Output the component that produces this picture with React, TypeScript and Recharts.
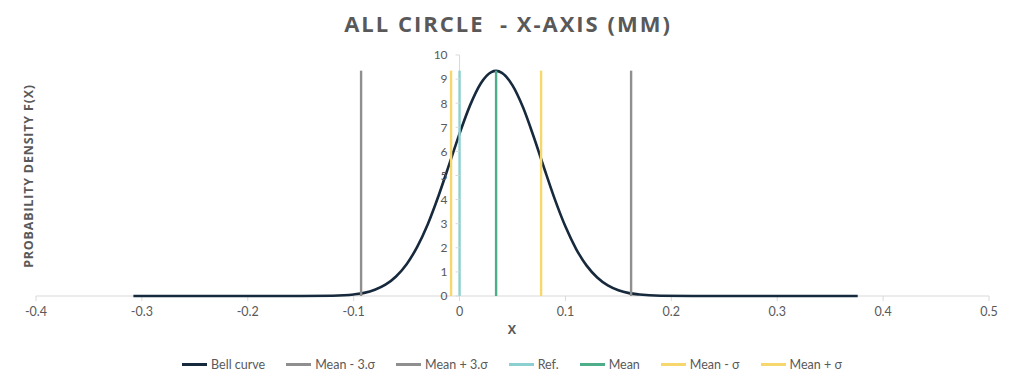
import { LineChart, Line, XAxis, YAxis, ReferenceLine } from 'recharts';

// bell curve
const bellX = [
  -0.308, -0.25, -0.2, -0.15, -0.12, -0.1, -0.09, -0.08, -0.07, -0.06, -0.05, -0.04, -0.03, -0.02,
  -0.01, 0, 0.01, 0.02, 0.03, 0.0345, 0.04, 0.05, 0.06, 0.07, 0.08, 0.09, 0.1, 0.11, 0.12, 0.13,
  0.14, 0.15, 0.16, 0.17, 0.19, 0.22, 0.3, 0.376,
];
const bellY = [
  0, 0, 0, 0.001, 0.013, 0.065, 0.13, 0.26, 0.47, 0.81, 1.32, 2.04, 2.98, 4.14,
  5.43, 6.74, 7.92, 8.82, 9.29, 9.34, 9.26, 8.74, 7.82, 6.61, 5.29, 4.01, 2.88, 1.96, 1.26, 0.77,
  0.44, 0.24, 0.12, 0.061, 0.012, 0.001, 0, 0,
];

// vertical marker lines
const markerNames = ['Mean - 3.σ', 'Mean + 3.σ', 'Ref.', 'Mean', 'Mean - σ', 'Mean + σ'];
const markerX = [-0.093, 0.162, 0, 0.0345, -0.008, 0.077];
const markerTop = 9.35;

const xTicks = [-0.4, -0.3, -0.2, -0.1, 0, 0.1, 0.2, 0.3, 0.4, 0.5];
const yTicks = [0, 1, 2, 3, 4, 5, 6, 7, 8, 9, 10];

const BELL_COLOR = '#17293d';
const markerColors = ['#8f8f8f', '#8f8f8f', '#8ccfd0', '#4fae8a', '#f5d76e', '#f5d76e'];

const W = 1024;
const H = 390;
const Y_AXIS_W = 1;
const M = { top: 55, right: 35, bottom: 64, left: 36 - Y_AXIS_W };
const X_MIN = -0.4;
const X_MAX = 0.5;
const PLOT_LEFT = M.left + Y_AXIS_W;
const PLOT_W = W - PLOT_LEFT - M.right;
// pixel where x = 0 sits; the y axis is drawn there
const Y_AXIS_PX = PLOT_LEFT + ((0 - X_MIN) / (X_MAX - X_MIN)) * PLOT_W;

const TEXT = '#595959';
const GRID = '#d9d9d9';
const FONT = 'Lato, "Open Sans", sans-serif';

const bellData = bellX.map((x, i) => ({ x, y: bellY[i] }));
const markers = markerNames.map((name, i) => ({
  name,
  color: markerColors[i],
  data: [
    { x: markerX[i], y: 0 },
    { x: markerX[i], y: markerTop },
  ],
}));

const legendItems = [{ name: 'Bell curve', color: BELL_COLOR }, ...markers.map((m) => ({ name: m.name, color: m.color }))];

const YTick = ({ y, payload }: any) => (
  <g>
    <line x1={Y_AXIS_PX - 4} x2={Y_AXIS_PX} y1={y} y2={y} stroke={GRID} />
    <text x={Y_AXIS_PX - 12} y={y} dy={4.3} textAnchor="end" fill={TEXT} fontSize={12} fontFamily={FONT}>
      {payload.value}
    </text>
  </g>
);

export default function App() {
  return (
    <div style={{ position: 'absolute', left: 0, top: 0, width: W, height: H, background: '#fff', fontFamily: FONT }}>
      <div
        style={{
          position: 'absolute',
          top: 8,
          left: 0,
          width: W - 8,
          textAlign: 'center',
          fontFamily: '"Open Sans", sans-serif',
          fontWeight: 700,
          fontSize: 22,
          letterSpacing: 2,
          color: TEXT,
        }}
      >
        ALL CIRCLE &nbsp;- X-AXIS (MM)
      </div>

      <div
        style={{
          position: 'absolute',
          left: 28,
          top: 176,
          transform: 'translate(-50%, -50%) rotate(-90deg)',
          whiteSpace: 'nowrap',
          fontFamily: '"Open Sans", sans-serif',
          fontWeight: 700,
          fontSize: 12.5,
          letterSpacing: 0.8,
          color: TEXT,
        }}
      >
        PROBABILITY DENSITY F(X)
      </div>

      <div
        style={{
          position: 'absolute',
          left: 0,
          top: 321,
          width: W,
          textAlign: 'center',
          fontFamily: '"Open Sans", sans-serif',
          fontWeight: 700,
          fontSize: 12.5,
          color: TEXT,
        }}
      >
        X
      </div>

      <LineChart width={W} height={H} margin={M} style={{ position: 'absolute', left: 0, top: 0 }}>
        <XAxis
          dataKey="x"
          type="number"
          domain={[X_MIN, X_MAX]}
          ticks={xTicks}
          allowDataOverflow
          height={30}
          axisLine={{ stroke: GRID }}
          tickLine={{ stroke: GRID }}
          tickSize={5}
          tickMargin={6}
          tick={{ fill: TEXT, fontSize: 12.5, fontFamily: FONT }}
          zIndex={-10}
        />
        <YAxis
          type="number"
          domain={[0, 10]}
          ticks={yTicks}
          width={Y_AXIS_W}
          axisLine={false}
          tickLine={false}
          tick={<YTick />}
          zIndex={-10}
        />
        <ReferenceLine x={0} stroke={GRID} zIndex={-10} />
        <Line
          data={bellData}
          dataKey="y"
          type="monotone"
          stroke={BELL_COLOR}
          strokeWidth={2.6}
          dot={false}
          isAnimationActive={false}
        />
        {markers.map((m) => (
          <Line
            key={m.name}
            name={m.name}
            data={m.data}
            dataKey="y"
            stroke={m.color}
            strokeWidth={2.4}
            dot={false}
            isAnimationActive={false}
          />
        ))}
      </LineChart>

      <div
        style={{
          position: 'absolute',
          left: 0,
          top: 357,
          width: W,
          display: 'flex',
          justifyContent: 'center',
          gap: 21,
          fontSize: 12.5,
          color: TEXT,
        }}
      >
        {legendItems.map((it) => (
          <div key={it.name} style={{ display: 'flex', alignItems: 'center', gap: 4 }}>
            <span style={{ display: 'inline-block', width: 25, height: 3, background: it.color }} />
            <span>{it.name}</span>
          </div>
        ))}
      </div>
    </div>
  );
}
